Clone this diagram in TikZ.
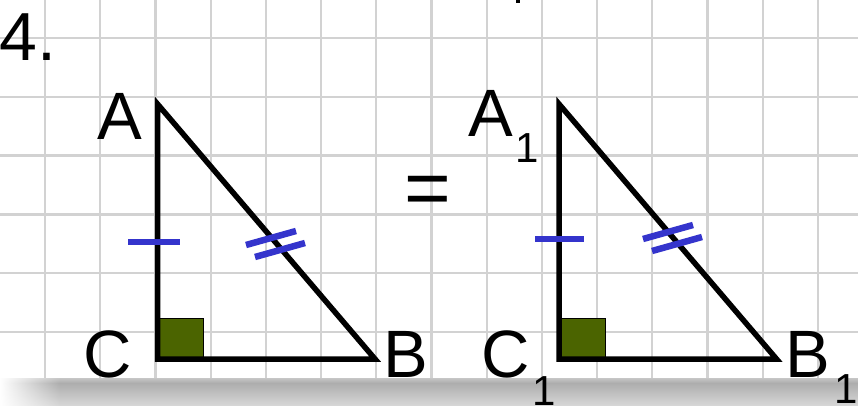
\documentclass[tikz,border=0pt]{standalone}
\usepackage{fontspec}
\setmainfont{Liberation Sans}
\usetikzlibrary{fadings}
\definecolor{gridgray}{HTML}{D2D2D2}
\definecolor{tickblue}{HTML}{3434CC}
\definecolor{olivebox}{HTML}{4B6400}
\definecolor{shadeA}{HTML}{C6C6C6}
\definecolor{shadeB}{HTML}{ADADAD}
\definecolor{shadeC}{HTML}{D8D8D8}
\begin{document}
\begin{tikzpicture}[x=1pt,y=-1pt,
  gridline/.style={draw=gridgray,line width=2.2pt},
  side/.style={draw=black,line width=5.5pt,line join=miter,miter limit=10},
  tickmark/.style={draw=tickblue,line width=6.5pt},
  rightbox/.style={fill=olivebox,draw=black,line width=0.8pt},
  letter/.style={inner sep=0pt,anchor=base,font=\fontsize{67}{67}\selectfont},
  subscr/.style={inner sep=0pt,anchor=base,font=\fontsize{42}{42}\selectfont}]
\useasboundingbox (0,0) rectangle (858,406);
\fill[white] (0,0) rectangle (858,406);
% grid
\foreach \i in {0,...,14} \draw[gridline] ({45+55.2*\i},0) -- ({45+55.2*\i},378);
\foreach \j in {0,...,5} \draw[gridline] (0,{38+58.8*\j}) -- (858,{38+58.8*\j});
% bottom shadow
\shade[top color=shadeA,bottom color=shadeB] (0,378) rectangle (858,383);
\shade[top color=shadeB,bottom color=shadeC] (0,383) rectangle (858,406);
\fill[white,path fading=east] (0,378) rectangle (60,406);
% cut-off mark at top
\fill[black] (516,0) rectangle (519.5,3.5);
% number
\node[inner sep=0pt,anchor=base west,font=\fontsize{68}{68}\selectfont] (num) at (-0.8,61) {4.};
% triangle 1
\coordinate (A) at (157.5,104);
\coordinate (C) at (157.5,359);
\coordinate (B) at (375,359);
\draw[rightbox] (C) rectangle (203,318);
\draw[side] (A) -- (C) -- (B) -- cycle;
\coordinate (t1a) at (128,242); \coordinate (t1b) at (180,242);
\draw[tickmark] (t1a) -- (t1b);
\coordinate (d1a) at (246,245); \coordinate (d1b) at (296,231);
\coordinate (d1c) at (255,257); \coordinate (d1d) at (305,243);
\draw[tickmark] (d1a) -- (d1b);
\draw[tickmark] (d1c) -- (d1d);
\node[letter] (lA) at (119.5,140) {A};
\node[letter] (lC) at (108,377) {C};
\node[letter] (lB) at (406,377) {B};
% equals sign
\node[inner sep=0pt,anchor=base,font=\fontsize{80}{80}\selectfont] (eq) at (427.5,215.7) {=};
% triangle 2
\coordinate (A1) at (559,104);
\coordinate (C1) at (559,359);
\coordinate (B1) at (776.5,359);
\draw[rightbox] (C1) rectangle (605,318);
\draw[side] (A1) -- (C1) -- (B1) -- cycle;
\coordinate (t2a) at (535,239); \coordinate (t2b) at (584,239);
\draw[tickmark] (t2a) -- (t2b);
\coordinate (d2a) at (643,239); \coordinate (d2b) at (693,225);
\coordinate (d2c) at (652,251); \coordinate (d2d) at (702,237);
\draw[tickmark] (d2a) -- (d2b);
\draw[tickmark] (d2c) -- (d2d);
\node[letter] (lA1) at (490.5,137) {A};
\node[subscr] (sA1) at (526.7,163) {1};
\node[letter] (lC1) at (505.5,377) {C};
\node[subscr] (sC1) at (543.7,405) {1};
\node[letter] (lB1) at (808,377) {B};
\node[subscr] (sB1) at (845.7,403) {1};
\end{tikzpicture}
\end{document}
